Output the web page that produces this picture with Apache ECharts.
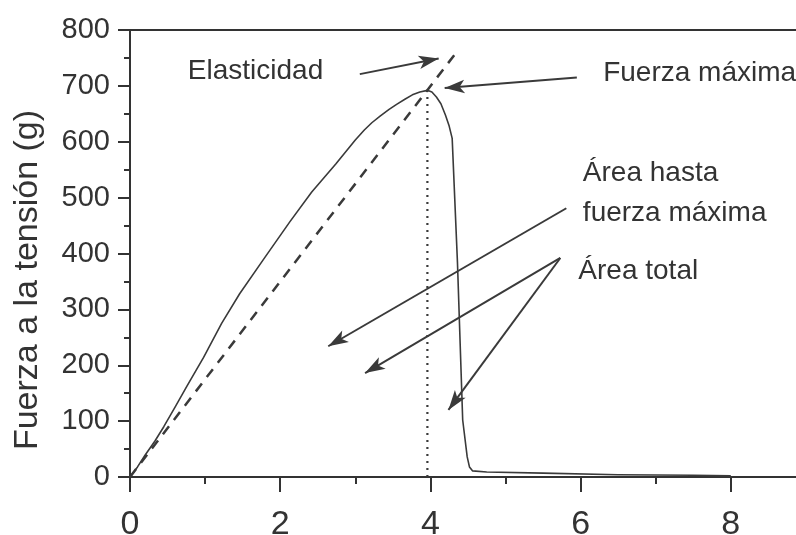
<!DOCTYPE html>
<html>
<head>
<meta charset="utf-8">
<script src="https://cdn.jsdelivr.net/npm/echarts@6/dist/echarts.min.js"></script>
<style>
  html, body { margin: 0; padding: 0; background: #ffffff; }
  #chart { width: 796px; height: 535px; }
</style>
</head>
<body>
<div id="chart"></div>
<script>
// Force–elongation curve of a tensile test
const xTicks = [0, 2, 4, 6, 8];
const yTicks = [0, 100, 200, 300, 400, 500, 600, 700, 800];

// Measured curve: [elongation, force (g)]
const curveX = [0, 0.1, 0.2, 0.33, 0.45, 0.6, 0.76, 0.98, 1.22, 1.46, 1.78, 2.13, 2.42, 2.74, 3.0, 3.12, 3.22, 3.33, 3.45, 3.55,
                3.66, 3.76, 3.86, 3.96, 4.02, 4.08, 4.14, 4.2, 4.25, 4.29, 4.36, 4.43, 4.49, 4.52, 4.56, 4.75, 5.5, 6.5, 7.5, 8.0];
const curveY = [0, 18, 39, 64, 90, 125, 163, 214, 275, 328, 390, 457, 510, 560, 603, 621, 634, 646, 658, 667,
                676, 684, 689, 692, 689, 680, 668, 648, 628, 606, 385, 102, 36, 18, 11, 9, 7, 4, 3, 2];

// Elastic slope line and the vertical at maximum force
const elasticLine = [[0, 0], [4.34, 759]];
const maxForceLine = [[3.96, 0], [3.96, 692]];

// Annotation arrows: [from, to] in data units
const arrows = [
  [[3.06, 721], [4.11, 749]],
  [[5.95, 715], [4.19, 696]],
  [[5.81, 481], [2.64, 234]],
  [[5.73, 392], [3.13, 186]],
  [[5.73, 392], [4.24, 120]]
];

// Annotation texts and their left-middle anchors in data units
const noteTexts = ['Elasticidad', 'Fuerza máxima', 'Área hasta\nfuerza máxima', 'Área total'];
const noteAnchors = [[0.77, 727], [6.3, 723], [6.03, 508], [5.97, 369]];

const yTitle = 'Fuerza a la tensión (g)';

const ink = '#333333';
const lineInk = '#3a3a3a';
const font = '"Liberation Sans", Arial, sans-serif';

const chart = echarts.init(document.getElementById('chart'), null, { renderer: 'canvas' });

const curve = curveX.map((x, i) => [x, curveY[i]]);

chart.setOption({
  backgroundColor: '#ffffff',
  animation: false,
  grid: {
    left: 130, top: 30, width: 751, height: 447,
    outerBoundsMode: 'none', containLabel: false,
    show: true, borderColor: ink, borderWidth: 2, backgroundColor: 'transparent'
  },
  xAxis: {
    type: 'value', min: 0, max: 10, interval: 2,
    axisLine: { show: true, lineStyle: { color: ink, width: 2 } },
    axisTick: { show: true, inside: false, length: 15, lineStyle: { color: ink, width: 2 } },
    minorTick: { show: true, splitNumber: 2, length: 7, lineStyle: { color: ink, width: 2 } },
    splitLine: { show: false },
    minorSplitLine: { show: false },
    axisLabel: {
      margin: 31, color: ink, fontFamily: font, fontSize: 34,
      formatter: v => (xTicks.indexOf(v) >= 0 ? String(v) : '')
    }
  },
  yAxis: {
    type: 'value', min: 0, max: 800, interval: 100,
    axisLine: { show: true, lineStyle: { color: ink, width: 2 } },
    axisTick: { show: true, inside: false, length: 12, lineStyle: { color: ink, width: 2 } },
    minorTick: { show: true, splitNumber: 2, length: 6, lineStyle: { color: ink, width: 2 } },
    splitLine: { show: false },
    axisLabel: {
      margin: 20, color: ink, fontFamily: font, fontSize: 29,
      formatter: v => (yTicks.indexOf(v) >= 0 ? String(v) : '')
    }
  },
  series: [
    {
      name: 'Fuerza', type: 'line', data: curve, showSymbol: false, smooth: false,
      lineStyle: { color: lineInk, width: 1.6, join: 'round' }, z: 3
    },
    {
      name: 'Elasticidad', type: 'line', data: elasticLine, showSymbol: false,
      lineStyle: { color: lineInk, width: 2.5, type: [10, 8] }, z: 2
    },
    {
      name: 'Fuerza máxima', type: 'line', data: maxForceLine, showSymbol: false,
      lineStyle: { color: lineInk, width: 2.2, type: [2, 5] }, z: 2
    },
    {
      name: 'Anotaciones', type: 'line', data: [], showSymbol: false,
      markLine: {
        silent: true, animation: false,
        symbol: ['none', 'arrow'], symbolSize: [10, 20],
        label: { show: false },
        lineStyle: { color: '#3a3a3a', width: 2, type: 'solid' },
        emphasis: { disabled: true },
        data: arrows.map(a => [{ coord: a[0] }, { coord: a[1] }])
      }
    }
  ]
});

// Place the text notes at their data anchors
const noteGraphics = noteTexts.map((t, i) => {
  const p = chart.convertToPixel({ gridIndex: 0 }, noteAnchors[i]);
  return {
    type: 'text', x: p[0], y: p[1], silent: true,
    style: {
      text: t, fill: ink, font: '28px ' + font,
      textAlign: 'left', textVerticalAlign: 'middle', lineHeight: 40
    }
  };
});

noteGraphics.push({
  type: 'text', x: 28, y: 280, rotation: Math.PI / 2, silent: true,
  style: {
    text: yTitle, fill: ink, font: '34px ' + font,
    textAlign: 'center', textVerticalAlign: 'middle'
  }
});

chart.setOption({ graphic: noteGraphics });
</script>
</body>
</html>
